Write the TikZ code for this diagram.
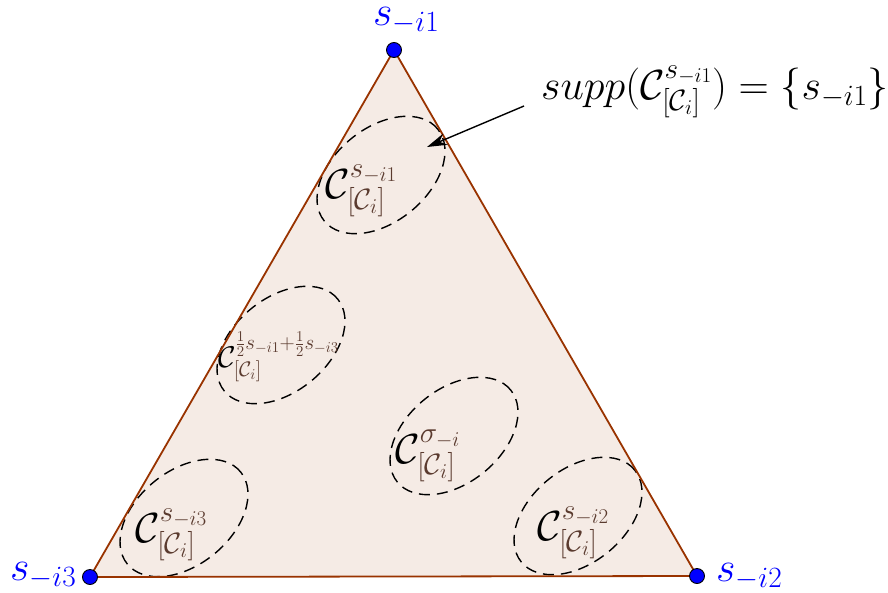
\documentclass[tikz,border=0pt]{standalone}
\usepackage{fix-cm}
\usepackage{amsmath}
\usetikzlibrary{arrows.meta}
\definecolor{edgec}{HTML}{993300}
\definecolor{vblue}{HTML}{0000FF}
\definecolor{scr}{HTML}{5A3A2E}
\newcommand{\scrc}[1]{\textcolor{scr}{#1}}
\begin{document}
\begin{tikzpicture}[x=1pt,y=-1pt,
  vertex/.style={circle,fill=vblue,draw=black,line width=0.9pt,inner sep=0pt,minimum size=15pt},
  vlabel/.style={text=vblue,font=\fontsize{42}{50}\selectfont,inner sep=0pt,anchor=base west},
  region/.style={draw=black,dash pattern=on 11pt off 7pt,line width=1.4pt},
  clabel/.style={font=\fontsize{42}{50}\selectfont,inner sep=0pt,anchor=base west},
  slabel/.style={font=\fontsize{30}{36}\selectfont,inner sep=0pt,anchor=base west}]
\useasboundingbox (0,0) rectangle (888,592);
\coordinate (A) at (394,50);
\coordinate (B) at (697,576);
\coordinate (C) at (90,577);
\fill[edgec!10] (A)--(B)--(C)--cycle;
% regions
\coordinate (e1) at (381,175);
\coordinate (e2) at (281,345);
\coordinate (e3) at (454,436);
\coordinate (e4) at (184,518);
\coordinate (e5) at (578,516);
\foreach \e in {e1,e2,e3,e4,e5}
  \draw[region, rotate around={39:(\e)}] (\e) ellipse [x radius=73pt, y radius=47pt];
\draw[edgec,line width=1.8pt,line join=round] (A)--(B)--(C)--cycle;
% vertices
\node[vertex] (vA) at (A) {};
\node[vertex] (vB) at (B) {};
\node[vertex] (vC) at (C) {};
\node[vlabel] (lA) at (373,25) {$s_{-i1}$};
\node[vlabel] (lB) at (716,581) {$s_{-i2}$};
\node[vlabel] (lC) at (10,580) {$s_{-i3}$};
% region labels
\node[clabel] (c1) at (325,198) {$\mathcal{C}^{\scrc{s_{-i1}}}_{\scrc{[\mathcal{C}_i]}}$};
\node[slabel] (c2) at (218,367) {$\mathcal{C}^{\scrc{\frac{1}{2}s_{-i1}+\frac{1}{2}s_{-i3}}}_{\scrc{[\mathcal{C}_i]}}$};
\node[clabel] (c3) at (395,463) {$\mathcal{C}^{\scrc{\sigma_{-i}}}_{\scrc{[\mathcal{C}_i]}}$};
\node[clabel] (c4) at (135,542) {$\mathcal{C}^{\scrc{s_{-i3}}}_{\scrc{[\mathcal{C}_i]}}$};
\node[clabel] (c5) at (537,540) {$\mathcal{C}^{\scrc{s_{-i2}}}_{\scrc{[\mathcal{C}_i]}}$};
% support label
\node[clabel] (supp) at (541,99) {$supp(\mathcal{C}^{s_{-i1}}_{[\mathcal{C}_i]})=\{s_{-i1}\}$};
\coordinate (a1) at (524,106);
\coordinate (a2) at (427,147);
\draw[-{Stealth[length=20pt,width=12pt]},line width=1.4pt] (a1) -- (a2);
\end{tikzpicture}
\end{document}
